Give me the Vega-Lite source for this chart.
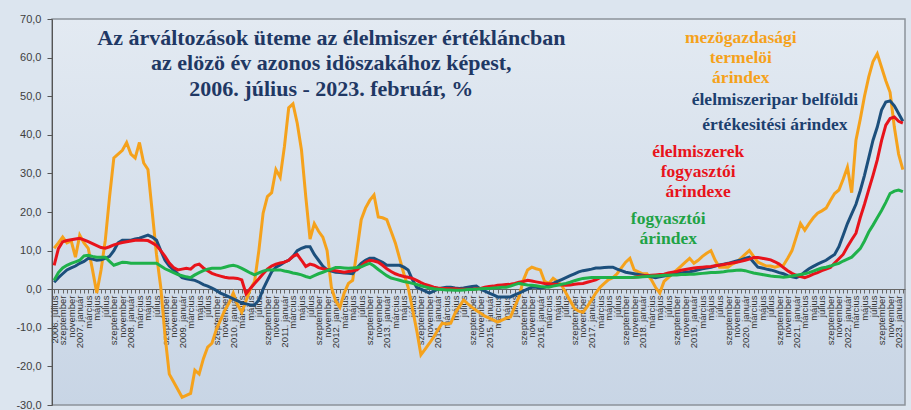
{
  "$schema": "https://vega.github.io/schema/vega-lite/v6.json",
  "width": 853,
  "height": 386,
  "autosize": {"type": "none"},
  "padding": {"left": 52, "top": 19, "right": 6, "bottom": 5},
  "background": "#dce5ef",
  "config": {
    "locale": {"number": {"decimal": ",", "thousands": " ", "grouping": [3], "currency": ["", ""], "minus": "-"}},
    "view": {
      "fill": {"gradient": "linear", "x1": 0, "y1": 0, "x2": 0, "y2": 1, "stops": [{"offset": 0, "color": "#e3eaf2"}, {"offset": 1, "color": "#c8d5e5"}]},
      "stroke": "#8c939b",
      "strokeWidth": 1.5
    },
    "axis": {"labelOverlap": false},
    "axisX": {
      "title": null,
      "offset": -116,
      "labelAngle": 270,
      "labelOverlap": false,
      "labelBound": false,
      "labelFlush": false,
      "labelFont": "Liberation Sans",
      "labelFontSize": 9.5,
      "labelColor": "#333333",
      "labelPadding": 2,
      "tickSize": 4,
      "tickColor": "#666666",
      "domainColor": "#666666",
      "grid": false
    },
    "axisY": {
      "title": null,
      "grid": false,
      "labelOverlap": false,
      "labelFont": "Liberation Sans",
      "labelFontSize": 11,
      "labelColor": "#404040",
      "labelPadding": 6,
      "tickSize": 5,
      "tickColor": "#555555",
      "domainColor": "#555555"
    }
  },
  "datasets": {
    "series": [
      {"d":"2006-07","o":10.6,"n":1.8,"r":6.2,"g":2.3},
      {"d":"2006-08","o":12,"n":3,"r":10.5,"g":4.3},
      {"d":"2006-09","o":13.5,"n":4,"r":12.3,"g":5.5},
      {"d":"2006-10","o":12,"n":5,"r":12.6,"g":6.2},
      {"d":"2006-11","o":12.5,"n":5.5,"r":12.8,"g":6.7},
      {"d":"2006-12","o":8.3,"n":6,"r":13,"g":7.1},
      {"d":"2007-01","o":14,"n":6.7,"r":13.2,"g":7.5},
      {"d":"2007-02","o":12,"n":7.2,"r":12.8,"g":8.6},
      {"d":"2007-03","o":10.6,"n":8,"r":12.3,"g":8.8},
      {"d":"2007-04","o":5,"n":7.8,"r":11.8,"g":8.5},
      {"d":"2007-05","o":-1,"n":7.5,"r":11.3,"g":8.3},
      {"d":"2007-06","o":5,"n":7.6,"r":10.8,"g":8.3},
      {"d":"2007-07","o":12.7,"n":8,"r":10.6,"g":8.3},
      {"d":"2007-08","o":24,"n":8.5,"r":11,"g":7.2},
      {"d":"2007-09","o":34,"n":10,"r":11.5,"g":6.2},
      {"d":"2007-10","o":35,"n":12,"r":11.8,"g":6.6},
      {"d":"2007-11","o":36,"n":12.7,"r":12.1,"g":7},
      {"d":"2007-12","o":38,"n":12.7,"r":12.3,"g":6.9},
      {"d":"2008-01","o":35,"n":12.7,"r":12.5,"g":6.7},
      {"d":"2008-02","o":34,"n":13,"r":12.7,"g":6.7},
      {"d":"2008-03","o":38,"n":13.2,"r":12.7,"g":6.7},
      {"d":"2008-04","o":32.7,"n":13.6,"r":12.7,"g":6.7},
      {"d":"2008-05","o":31,"n":14,"r":12.6,"g":6.7},
      {"d":"2008-06","o":20,"n":13.5,"r":12,"g":6.7},
      {"d":"2008-07","o":9,"n":12.7,"r":11.3,"g":6.7},
      {"d":"2008-08","o":0.5,"n":10,"r":10,"g":6},
      {"d":"2008-09","o":-12,"n":7.5,"r":8.5,"g":5.3},
      {"d":"2008-10","o":-22,"n":6,"r":6.8,"g":4.8},
      {"d":"2008-11","o":-24,"n":5,"r":5.6,"g":4.3},
      {"d":"2008-12","o":-26,"n":4,"r":5,"g":3.8},
      {"d":"2009-01","o":-28,"n":3,"r":5.2,"g":3.5},
      {"d":"2009-02","o":-27.5,"n":2.7,"r":5.4,"g":3.2},
      {"d":"2009-03","o":-27,"n":2.5,"r":5.2,"g":3},
      {"d":"2009-04","o":-21,"n":2.3,"r":6.2,"g":3.7},
      {"d":"2009-05","o":-22,"n":1.8,"r":6.5,"g":4.3},
      {"d":"2009-06","o":-18,"n":1.2,"r":5.5,"g":4.8},
      {"d":"2009-07","o":-15,"n":0.8,"r":4.8,"g":5.2},
      {"d":"2009-08","o":-14,"n":0.3,"r":4.1,"g":5.4},
      {"d":"2009-09","o":-10.6,"n":-0.3,"r":3.7,"g":5.4},
      {"d":"2009-10","o":-8,"n":-1,"r":3.4,"g":5.4},
      {"d":"2009-11","o":-5.5,"n":-1.5,"r":3.1,"g":5.7},
      {"d":"2009-12","o":-3.6,"n":-2,"r":2.9,"g":6},
      {"d":"2010-01","o":-1,"n":-2.5,"r":2.9,"g":6.2},
      {"d":"2010-02","o":-4,"n":-3,"r":2.8,"g":5.9},
      {"d":"2010-03","o":-6,"n":-3.6,"r":2.4,"g":5.4},
      {"d":"2010-04","o":-3,"n":-3.8,"r":-1.2,"g":4.8},
      {"d":"2010-05","o":0,"n":-4.1,"r":0.2,"g":4.2},
      {"d":"2010-06","o":2,"n":-4.1,"r":1.5,"g":3.7},
      {"d":"2010-07","o":10,"n":-2.8,"r":2.7,"g":4.2},
      {"d":"2010-08","o":19.7,"n":0,"r":4,"g":4.7},
      {"d":"2010-09","o":24,"n":2.3,"r":5.2,"g":5},
      {"d":"2010-10","o":25,"n":4.5,"r":6,"g":5},
      {"d":"2010-11","o":31,"n":5.7,"r":6.5,"g":5},
      {"d":"2010-12","o":29,"n":6.3,"r":6.8,"g":5},
      {"d":"2011-01","o":37,"n":7,"r":7,"g":4.7},
      {"d":"2011-02","o":47,"n":7.5,"r":7.5,"g":4.5},
      {"d":"2011-03","o":48,"n":8.5,"r":8.5,"g":4.2},
      {"d":"2011-04","o":43,"n":10,"r":9,"g":4},
      {"d":"2011-05","o":36,"n":10.6,"r":7.5,"g":3.7},
      {"d":"2011-06","o":24,"n":11,"r":5.9,"g":3.3},
      {"d":"2011-07","o":13,"n":11,"r":6.5,"g":3},
      {"d":"2011-08","o":17,"n":9,"r":6.2,"g":3.5},
      {"d":"2011-09","o":15,"n":7.5,"r":5.6,"g":4},
      {"d":"2011-10","o":13.5,"n":6,"r":5.3,"g":4.4},
      {"d":"2011-11","o":10,"n":5,"r":5.1,"g":4.8},
      {"d":"2011-12","o":0.5,"n":4.7,"r":5,"g":5.2},
      {"d":"2012-01","o":-3,"n":4.4,"r":4.8,"g":5.6},
      {"d":"2012-02","o":-4.7,"n":4.3,"r":4.6,"g":5.6},
      {"d":"2012-03","o":-1,"n":4.2,"r":4.4,"g":5.5},
      {"d":"2012-04","o":1.5,"n":4.1,"r":4.6,"g":5.4},
      {"d":"2012-05","o":2.3,"n":4,"r":4.8,"g":5.5},
      {"d":"2012-06","o":10,"n":5.5,"r":5,"g":5.6},
      {"d":"2012-07","o":18,"n":6.7,"r":6,"g":5.8},
      {"d":"2012-08","o":21,"n":7.5,"r":7,"g":6.3},
      {"d":"2012-09","o":23,"n":8,"r":7.5,"g":6.7},
      {"d":"2012-10","o":24.4,"n":8,"r":7.3,"g":6},
      {"d":"2012-11","o":18.7,"n":7.5,"r":7,"g":5.1},
      {"d":"2012-12","o":18.5,"n":7,"r":6.2,"g":4.3},
      {"d":"2013-01","o":18,"n":6.2,"r":5.3,"g":3.5},
      {"d":"2013-02","o":15,"n":6.2,"r":4.6,"g":2.9},
      {"d":"2013-03","o":12,"n":6.2,"r":4,"g":2.6},
      {"d":"2013-04","o":8,"n":6.2,"r":3.6,"g":2.3},
      {"d":"2013-05","o":4,"n":5.7,"r":3.3,"g":2},
      {"d":"2013-06","o":0.5,"n":5,"r":3.1,"g":1.8},
      {"d":"2013-07","o":-5,"n":2.5,"r":2.8,"g":1.5},
      {"d":"2013-08","o":-10.6,"n":0.5,"r":2.3,"g":1.2},
      {"d":"2013-09","o":-17,"n":0,"r":1.7,"g":0.9},
      {"d":"2013-10","o":-15.5,"n":-0.5,"r":1.2,"g":0.6},
      {"d":"2013-11","o":-14,"n":-1,"r":0.9,"g":0.3},
      {"d":"2013-12","o":-12.4,"n":-0.5,"r":0.5,"g":0.1},
      {"d":"2014-01","o":-10.5,"n":0,"r":0.3,"g":0},
      {"d":"2014-02","o":-8.8,"n":0.3,"r":0.2,"g":-0.1},
      {"d":"2014-03","o":-9,"n":0.5,"r":0.2,"g":-0.2},
      {"d":"2014-04","o":-8.8,"n":0.5,"r":0.1,"g":-0.2},
      {"d":"2014-05","o":-6.2,"n":0.3,"r":0.1,"g":-0.3},
      {"d":"2014-06","o":-4.5,"n":0.2,"r":0,"g":-0.3},
      {"d":"2014-07","o":-2.8,"n":0.3,"r":0,"g":-0.2},
      {"d":"2014-08","o":-3.8,"n":0.5,"r":0,"g":-0.1},
      {"d":"2014-09","o":-4.7,"n":0.7,"r":0,"g":-0.1},
      {"d":"2014-10","o":-5.5,"n":0.8,"r":0.1,"g":0},
      {"d":"2014-11","o":-6.2,"n":0,"r":0.2,"g":0.1},
      {"d":"2014-12","o":-7,"n":-0.5,"r":0.5,"g":0.2},
      {"d":"2015-01","o":-7.5,"n":-1,"r":0.7,"g":0.2},
      {"d":"2015-02","o":-8,"n":-1.5,"r":0.8,"g":0.3},
      {"d":"2015-03","o":-8.5,"n":-2,"r":1,"g":0.4},
      {"d":"2015-04","o":-8,"n":-2,"r":1.1,"g":0.5},
      {"d":"2015-05","o":-7.5,"n":-2,"r":1.2,"g":0.5},
      {"d":"2015-06","o":-7.2,"n":-2,"r":1.3,"g":0.8},
      {"d":"2015-07","o":-4.5,"n":-1.5,"r":1.5,"g":1.2},
      {"d":"2015-08","o":-2,"n":-1,"r":1.8,"g":1.5},
      {"d":"2015-09","o":2.3,"n":-0.5,"r":2,"g":1.3},
      {"d":"2015-10","o":5,"n":0,"r":2.3,"g":1.1},
      {"d":"2015-11","o":5.7,"n":0.5,"r":2.1,"g":1},
      {"d":"2015-12","o":5.3,"n":0.5,"r":1.9,"g":0.9},
      {"d":"2016-01","o":5,"n":0.3,"r":1.7,"g":0.7},
      {"d":"2016-02","o":2,"n":0.5,"r":1.5,"g":0.6},
      {"d":"2016-03","o":1.5,"n":1,"r":1.4,"g":0.5},
      {"d":"2016-04","o":2.8,"n":1.5,"r":1.3,"g":0.8},
      {"d":"2016-05","o":2,"n":2,"r":1.2,"g":1},
      {"d":"2016-06","o":1,"n":2.5,"r":1.1,"g":1.3},
      {"d":"2016-07","o":-1,"n":3,"r":1,"g":1.5},
      {"d":"2016-08","o":-3,"n":3.5,"r":1.1,"g":1.8},
      {"d":"2016-09","o":-5,"n":4,"r":1.3,"g":2.2},
      {"d":"2016-10","o":-5.7,"n":4.5,"r":1.4,"g":2.5},
      {"d":"2016-11","o":-6,"n":4.8,"r":1.5,"g":2.8},
      {"d":"2016-12","o":-4.5,"n":5,"r":1.8,"g":2.9},
      {"d":"2017-01","o":-2.8,"n":5.2,"r":2.1,"g":3},
      {"d":"2017-02","o":-1,"n":5.5,"r":2.4,"g":3},
      {"d":"2017-03","o":0.5,"n":5.5,"r":3,"g":3},
      {"d":"2017-04","o":1.5,"n":5.6,"r":3,"g":3},
      {"d":"2017-05","o":2.5,"n":5.7,"r":3,"g":3},
      {"d":"2017-06","o":3,"n":5.7,"r":3,"g":3},
      {"d":"2017-07","o":4,"n":5.2,"r":3,"g":3},
      {"d":"2017-08","o":5.5,"n":4.8,"r":3,"g":3},
      {"d":"2017-09","o":7,"n":4.4,"r":3,"g":3},
      {"d":"2017-10","o":8,"n":4.2,"r":3,"g":3},
      {"d":"2017-11","o":5,"n":4,"r":3.1,"g":3.1},
      {"d":"2017-12","o":4.5,"n":3.8,"r":3.3,"g":3.1},
      {"d":"2018-01","o":4,"n":3.6,"r":3.4,"g":3.2},
      {"d":"2018-02","o":4,"n":3.4,"r":3.5,"g":3.3},
      {"d":"2018-03","o":2.5,"n":3.2,"r":3.6,"g":3.4},
      {"d":"2018-04","o":0.5,"n":3,"r":3.7,"g":3.4},
      {"d":"2018-05","o":-1,"n":3.2,"r":3.8,"g":3.5},
      {"d":"2018-06","o":2,"n":3.4,"r":3.9,"g":3.6},
      {"d":"2018-07","o":3,"n":3.6,"r":4.2,"g":3.6},
      {"d":"2018-08","o":4,"n":3.8,"r":4.4,"g":3.7},
      {"d":"2018-09","o":5,"n":4,"r":4.6,"g":3.7},
      {"d":"2018-10","o":6,"n":4.2,"r":4.9,"g":3.8},
      {"d":"2018-11","o":7,"n":4.4,"r":5.1,"g":3.8},
      {"d":"2018-12","o":8,"n":4.5,"r":5.3,"g":3.9},
      {"d":"2019-01","o":6.7,"n":4.7,"r":5.5,"g":3.9},
      {"d":"2019-02","o":7.5,"n":5,"r":5.6,"g":4},
      {"d":"2019-03","o":8.5,"n":5.3,"r":5.7,"g":4.1},
      {"d":"2019-04","o":9.3,"n":5.5,"r":5.8,"g":4.2},
      {"d":"2019-05","o":10,"n":5.7,"r":5.9,"g":4.3},
      {"d":"2019-06","o":7.5,"n":6,"r":6.1,"g":4.3},
      {"d":"2019-07","o":5.7,"n":6.3,"r":6.2,"g":4.4},
      {"d":"2019-08","o":5.7,"n":6.5,"r":6.4,"g":4.5},
      {"d":"2019-09","o":5.7,"n":6.7,"r":6.6,"g":4.7},
      {"d":"2019-10","o":6.5,"n":7,"r":6.8,"g":4.8},
      {"d":"2019-11","o":7,"n":7.3,"r":7,"g":4.9},
      {"d":"2019-12","o":8,"n":7.6,"r":7.2,"g":5},
      {"d":"2020-01","o":9,"n":8,"r":7.5,"g":4.8},
      {"d":"2020-02","o":10,"n":8.3,"r":7.8,"g":4.5},
      {"d":"2020-03","o":8.5,"n":7,"r":8.2,"g":4.2},
      {"d":"2020-04","o":7,"n":5.7,"r":8.2,"g":4},
      {"d":"2020-05","o":6.5,"n":5.5,"r":8,"g":3.8},
      {"d":"2020-06","o":6,"n":5.2,"r":7.8,"g":3.6},
      {"d":"2020-07","o":6,"n":5,"r":7.6,"g":3.4},
      {"d":"2020-08","o":5.7,"n":4.7,"r":7.1,"g":3.3},
      {"d":"2020-09","o":6,"n":4.3,"r":6.5,"g":3.2},
      {"d":"2020-10","o":6.2,"n":4,"r":5.6,"g":3.1},
      {"d":"2020-11","o":8,"n":3.5,"r":4.8,"g":3.2},
      {"d":"2020-12","o":10,"n":3.2,"r":4.1,"g":3.4},
      {"d":"2021-01","o":13.5,"n":3,"r":3.6,"g":3.6},
      {"d":"2021-02","o":17,"n":3.5,"r":3.3,"g":3.8},
      {"d":"2021-03","o":15.3,"n":4.5,"r":3,"g":4},
      {"d":"2021-04","o":17,"n":5.3,"r":3.4,"g":4.3},
      {"d":"2021-05","o":18.5,"n":5.9,"r":3.9,"g":4.7},
      {"d":"2021-06","o":19.7,"n":6.5,"r":4.3,"g":5.1},
      {"d":"2021-07","o":20.3,"n":7,"r":4.8,"g":5.5},
      {"d":"2021-08","o":21,"n":7.5,"r":5.2,"g":5.7},
      {"d":"2021-09","o":23,"n":8.3,"r":5.6,"g":6},
      {"d":"2021-10","o":24.8,"n":9,"r":6.8,"g":6.4},
      {"d":"2021-11","o":25.7,"n":11,"r":7.9,"g":6.7},
      {"d":"2021-12","o":28.5,"n":14,"r":9,"g":7.3},
      {"d":"2022-01","o":31.6,"n":17,"r":11,"g":7.8},
      {"d":"2022-02","o":25,"n":19.5,"r":12.8,"g":8.3},
      {"d":"2022-03","o":38.6,"n":22,"r":14.5,"g":9.4},
      {"d":"2022-04","o":44,"n":25.5,"r":18.5,"g":10.5},
      {"d":"2022-05","o":50,"n":29.5,"r":22,"g":12.5},
      {"d":"2022-06","o":55,"n":34,"r":25.8,"g":14.8},
      {"d":"2022-07","o":59,"n":38.6,"r":29.5,"g":16.6},
      {"d":"2022-08","o":61,"n":42,"r":33.5,"g":18.5},
      {"d":"2022-09","o":57.5,"n":46.4,"r":38.5,"g":20.4},
      {"d":"2022-10","o":54,"n":48.5,"r":42.5,"g":22.5},
      {"d":"2022-11","o":51,"n":48.8,"r":44.2,"g":24.8},
      {"d":"2022-12","o":42,"n":47.5,"r":44.6,"g":25.4},
      {"d":"2023-01","o":35,"n":45.5,"r":43.5,"g":25.7},
      {"d":"2023-02","o":31,"n":43.5,"r":43,"g":25.3}
    ],
    "notes": [
      {"d":"2019-12","v":65.2,"t":"mezögazdasági","c":"o"},
      {"d":"2019-12","v":60.0,"t":"termelöi","c":"o"},
      {"d":"2019-12","v":54.6,"t":"árindex","c":"o"},
      {"d":"2020-08","v":49.0,"t":"élelmiszeripar  belföldi","c":"n"},
      {"d":"2020-08","v":42.5,"t":"értékesitési árindex","c":"n"},
      {"d":"2019-02","v":35.6,"t":"élelmiszerek","c":"r"},
      {"d":"2019-02","v":30.4,"t":"fogyasztói","c":"r"},
      {"d":"2019-02","v":25.2,"t":"árindexe","c":"r"},
      {"d":"2018-07","v":18.1,"t":"fogyasztói","c":"g"},
      {"d":"2018-07","v":13.0,"t":"árindex","c":"g"}
    ],
    "heading": [
      {"d":"2011-12","v":65.1,"t":"Az árváltozások üteme az élelmiszer értékláncban"},
      {"d":"2011-12","v":58.6,"t":"az elözö év azonos idöszakához képest,"},
      {"d":"2011-12","v":51.9,"t":"2006. július - 2023. február, %"}
    ]
  },
  "layer": [
    {
      "data": {"name": "series"},
      "mark": {"type": "line", "color": "#f5a21c", "strokeWidth": 3},
      "encoding": {
        "x": {
          "field": "d", "type": "ordinal", "title": null,
          "scale": {"type": "point", "padding": 0.5},
          "axis": {
            "labelOverlap": false,
            "labelExpr": "(toNumber(substring(datum.value,5,7)) % 2 == 1) ? (((substring(datum.value,5,7) == '01') || (datum.value == '2006-07')) ? substring(datum.value,0,4) + '. ' : '') + ['január','február','március','április','május','június','július','augusztus','szeptember','október','november','december'][toNumber(substring(datum.value,5,7)) - 1] : ''"
          }
        },
        "y": {
          "field": "o", "type": "quantitative", "title": null,
          "scale": {"domain": [-30, 70], "nice": false, "zero": false},
          "axis": {"values": [-30, -20, -10, 0, 10, 20, 30, 40, 50, 60, 70], "format": ".1f", "labelOverlap": false}
        }
      }
    },
    {
      "data": {"name": "series"},
      "mark": {"type": "line", "color": "#1c4f7c", "strokeWidth": 3},
      "encoding": {
        "x": {"field": "d", "type": "ordinal", "title": null},
        "y": {"field": "n", "type": "quantitative", "title": null, "axis": {"values": [-30, -20, -10, 0, 10, 20, 30, 40, 50, 60, 70], "format": ".1f", "labelOverlap": false}}
      }
    },
    {
      "data": {"name": "series"},
      "mark": {"type": "line", "color": "#e8131b", "strokeWidth": 3},
      "encoding": {
        "x": {"field": "d", "type": "ordinal", "title": null},
        "y": {"field": "r", "type": "quantitative", "title": null, "axis": {"values": [-30, -20, -10, 0, 10, 20, 30, 40, 50, 60, 70], "format": ".1f", "labelOverlap": false}}
      }
    },
    {
      "data": {"name": "series"},
      "mark": {"type": "line", "color": "#1fb14a", "strokeWidth": 3},
      "encoding": {
        "x": {"field": "d", "type": "ordinal", "title": null},
        "y": {"field": "g", "type": "quantitative", "title": null, "axis": {"values": [-30, -20, -10, 0, 10, 20, 30, 40, 50, 60, 70], "format": ".1f", "labelOverlap": false}}
      }
    },
    {
      "data": {"name": "notes"},
      "mark": {"type": "text", "font": "Liberation Serif", "fontWeight": "bold", "fontSize": 17.5, "baseline": "middle", "align": "center"},
      "encoding": {
        "x": {"field": "d", "type": "ordinal", "title": null},
        "y": {"field": "v", "type": "quantitative", "title": null, "axis": {"values": [-30, -20, -10, 0, 10, 20, 30, 40, 50, 60, 70], "format": ".1f", "labelOverlap": false}},
        "text": {"field": "t"},
        "color": {"field": "c", "type": "nominal", "scale": {"domain": ["o", "n", "r", "g"], "range": ["#f5a21c", "#1c3f6e", "#e8131b", "#1fa346"]}, "legend": null}
      }
    },
    {
      "data": {"name": "heading"},
      "mark": {"type": "text", "font": "Liberation Serif", "fontWeight": "bold", "fontSize": 22, "baseline": "middle", "align": "center", "color": "#1f3864"},
      "encoding": {
        "x": {"field": "d", "type": "ordinal", "title": null},
        "y": {"field": "v", "type": "quantitative", "title": null, "axis": {"values": [-30, -20, -10, 0, 10, 20, 30, 40, 50, 60, 70], "format": ".1f", "labelOverlap": false}},
        "text": {"field": "t"}
      }
    }
  ]
}
